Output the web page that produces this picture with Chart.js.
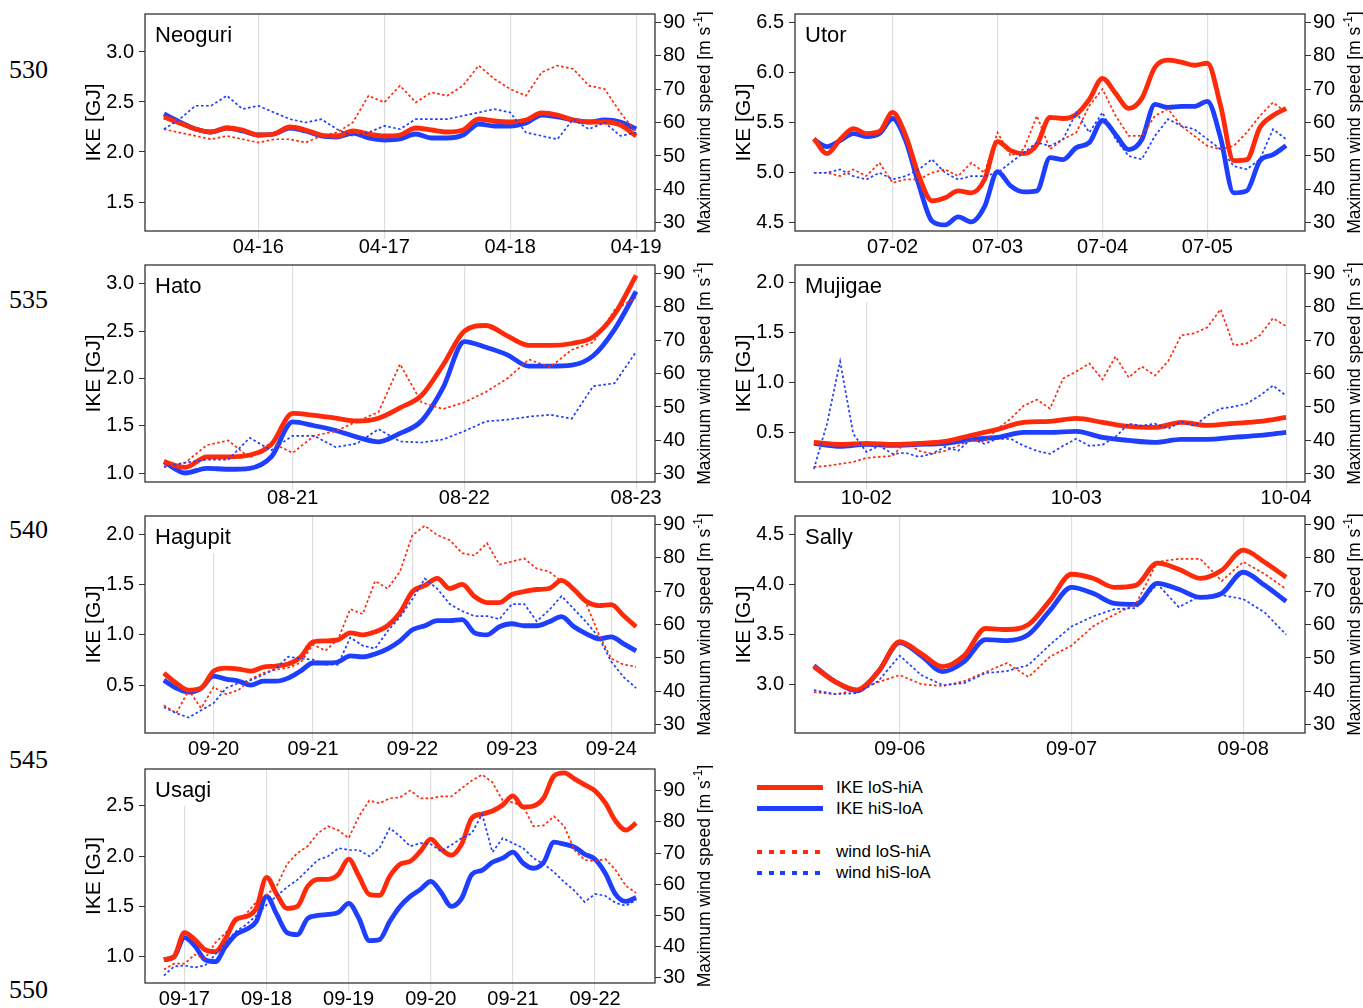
<!DOCTYPE html>
<html>
<head>
<meta charset="utf-8">
<title>IKE and maximum wind speed, loS-hiA vs hiS-loA</title>
<script src="https://cdn.jsdelivr.net/npm/chart.js@4.4.1/dist/chart.umd.min.js"></script>
<style>
  html, body { margin: 0; padding: 0; background: #fff; }
  body { position: relative; width: 1363px; height: 1008px; overflow: hidden;
         font-family: "Liberation Sans", Arial, Helvetica, sans-serif; color: #000; }
  canvas.panel { position: absolute; }
  .lineno { position: absolute; left: 9px; font-family: "Liberation Serif", "Times New Roman", serif;
            font-size: 26px; line-height: 26px; height: 26px; margin-top: -13px; }
  .key-line { position: absolute; left: 757px; width: 66px; }
  .key-text { position: absolute; left: 836px; font-size: 17px; line-height: 20px; margin-top: -10px; white-space: nowrap; }
</style>
</head>
<body>
<div class="lineno" style="top:70px">530</div>
<div class="lineno" style="top:300px">535</div>
<div class="lineno" style="top:530px">540</div>
<div class="lineno" style="top:760px">545</div>
<div class="lineno" style="top:990px">550</div>

<div class="key-line" style="top:785px;height:5px;background:#ff2a0a"></div>
<div class="key-text" style="top:788px">IKE loS-hiA</div>
<div class="key-line" style="top:806px;height:5px;background:#1f3fff"></div>
<div class="key-text" style="top:809px">IKE hiS-loA</div>
<div class="key-line" style="top:850px;height:4px;background:repeating-linear-gradient(to right,#ff2a0a 0 5px,transparent 5px 11.6px)"></div>
<div class="key-text" style="top:852px">wind loS-hiA</div>
<div class="key-line" style="top:871px;height:4px;background:repeating-linear-gradient(to right,#1f3fff 0 5px,transparent 5px 11.6px)"></div>
<div class="key-text" style="top:873px">wind hiS-loA</div>

<script>
// ---------------- data (3-hourly unless noted; first value at the run start) ----------------
// Neoguri: from 04-15 06:00
const neoguriDays = ['04-16', '04-17', '04-18', '04-19'];
const neoguriIkeTicks = [1.5, 2.0, 2.5, 3.0];
const neoguriIkeLoSHiA = [2.35, 2.29, 2.23, 2.20, 2.24, 2.22, 2.17, 2.18, 2.25, 2.22, 2.17, 2.16, 2.21, 2.18, 2.16, 2.17, 2.24, 2.22, 2.20, 2.22, 2.33, 2.31, 2.30, 2.32, 2.39, 2.37, 2.32, 2.30, 2.30, 2.27, 2.16];
const neoguriIkeHiSLoA = [2.38, 2.30, 2.23, 2.20, 2.24, 2.21, 2.17, 2.18, 2.24, 2.21, 2.16, 2.15, 2.19, 2.14, 2.12, 2.13, 2.18, 2.14, 2.14, 2.17, 2.28, 2.26, 2.26, 2.29, 2.37, 2.35, 2.32, 2.30, 2.32, 2.30, 2.23];
const neoguriWindLoSHiA = [58, 57, 56, 55, 56, 55, 54, 55, 55, 54, 56, 57, 60, 68, 66, 71, 66, 69, 68, 71, 77, 73, 70, 68, 75, 77, 76, 71, 70, 63, 57];
const neoguriWindHiSLoA = [58, 61, 65, 65, 68, 64, 65, 63, 61, 60, 61, 58, 56, 57, 59, 58, 61, 61, 61, 62, 63, 64, 63, 57, 56, 55, 61, 58, 60, 56, 57];

// Utor: from 07-01 06:00
const utorDays = ['07-02', '07-03', '07-04', '07-05'];
const utorIkeTicks = [4.5, 5.0, 5.5, 6.0, 6.5];
const utorIkeLoSHiA = [5.34, 5.19, 5.33, 5.44, 5.39, 5.41, 5.60, 5.37, 4.97, 4.72, 4.75, 4.82, 4.80, 4.93, 5.31, 5.22, 5.19, 5.28, 5.55, 5.54, 5.58, 5.73, 5.94, 5.79, 5.64, 5.74, 6.05, 6.12, 6.10, 6.07, 6.09, 5.67, 5.12, 5.13, 5.45, 5.57, 5.64];
const utorIkeHiSLoA = [5.33, 5.26, 5.32, 5.39, 5.36, 5.39, 5.54, 5.32, 4.88, 4.52, 4.48, 4.56, 4.51, 4.66, 5.01, 4.87, 4.81, 4.82, 5.15, 5.13, 5.25, 5.30, 5.52, 5.38, 5.23, 5.33, 5.68, 5.65, 5.66, 5.66, 5.71, 5.35, 4.80, 4.82, 5.12, 5.18, 5.27];
const utorWindLoSHiA = [45, 45, 44, 46, 44, 48, 42, 43, 43, 45, 46, 44, 48, 45, 57, 50, 52, 62, 52, 55, 57, 65, 70, 62, 56, 56, 62, 64, 59, 56, 53, 52, 53, 57, 62, 66, 63];
const utorWindHiSLoA = [45, 45, 46, 44, 43, 45, 43, 44, 46, 49, 45, 43, 44, 44, 45, 48, 51, 54, 53, 55, 63, 57, 63, 55, 50, 49, 56, 61, 59, 58, 55, 52, 47, 46, 49, 58, 55];

// Hato: from 08-20 06:00
const hatoDays = ['08-21', '08-22', '08-23'];
const hatoIkeTicks = [1.0, 1.5, 2.0, 2.5, 3.0];
const hatoIkeLoSHiA = [1.12, 1.06, 1.17, 1.17, 1.19, 1.30, 1.63, 1.61, 1.58, 1.55, 1.58, 1.69, 1.82, 2.14, 2.50, 2.56, 2.45, 2.35, 2.35, 2.37, 2.44, 2.68, 3.09];
const hatoIkeHiSLoA = [1.12, 1.00, 1.05, 1.04, 1.05, 1.17, 1.54, 1.50, 1.45, 1.38, 1.33, 1.42, 1.55, 1.90, 2.39, 2.33, 2.25, 2.13, 2.13, 2.14, 2.24, 2.52, 2.92];
const hatoWindLoSHiA = [32.3, 33.4, 38.6, 40.0, 34.8, 39.4, 36.3, 41.4, 42.8, 45.7, 48.5, 62.8, 51.4, 49.4, 51.4, 54.5, 58.5, 64.2, 61.9, 67.1, 69.3, 79.0, 82.7];
const hatoWindHiSLoA = [32.0, 33.4, 34.3, 34.3, 40.8, 37.1, 41.4, 41.4, 38.0, 39.1, 43.4, 39.7, 39.4, 40.3, 42.8, 45.7, 46.2, 47.1, 47.7, 46.5, 56.2, 57.1, 66.5];

// Mujigae: from 10-01 18:00 (wind every 1.5 h)
const mujigaeDays = ['10-02', '10-03', '10-04'];
const mujigaeIkeTicks = [0.5, 1.0, 1.5, 2.0];
const mujigaeIkeLoSHiA = [0.40, 0.38, 0.39, 0.38, 0.39, 0.41, 0.47, 0.53, 0.60, 0.61, 0.64, 0.60, 0.56, 0.55, 0.60, 0.57, 0.59, 0.61, 0.65];
const mujigaeIkeHiSLoA = [0.39, 0.36, 0.38, 0.37, 0.38, 0.39, 0.43, 0.45, 0.50, 0.50, 0.51, 0.45, 0.42, 0.40, 0.43, 0.43, 0.45, 0.47, 0.50];
const mujigaeWindLoSHiA = [32.1, 32.4, 33.0, 33.6, 34.8, 35.1, 35.4, 39.6, 36.9, 36.0, 36.9, 38.4, 40.2, 39.6, 43.5, 46.5, 50.4, 52.2, 49.5, 58.5, 60.6, 63.0, 58.2, 65.1, 58.8, 62.1, 59.4, 63.6, 71.4, 72.0, 73.8, 79.2, 68.4, 69.0, 71.4, 76.5, 74.1];
const mujigaeWindHiSLoA = [31.5, 45.0, 63.6, 42.0, 36.6, 38.4, 36.0, 36.3, 35.1, 36.0, 38.1, 36.9, 40.5, 39.0, 40.5, 40.5, 38.4, 36.9, 36.0, 38.4, 40.5, 38.4, 38.7, 41.1, 45.0, 44.4, 45.0, 43.5, 45.6, 44.4, 47.4, 49.5, 50.1, 51.0, 53.4, 56.4, 53.4];

// Hagupit: from 09-19 12:00
const hagupitDays = ['09-20', '09-21', '09-22', '09-23', '09-24'];
const hagupitIkeTicks = [0.5, 1.0, 1.5, 2.0];
const hagupitIkeLoSHiA = [0.62, 0.52, 0.45, 0.47, 0.64, 0.67, 0.66, 0.64, 0.68, 0.69, 0.71, 0.78, 0.93, 0.94, 0.95, 1.02, 1.00, 1.03, 1.09, 1.22, 1.43, 1.49, 1.56, 1.46, 1.50, 1.38, 1.32, 1.32, 1.40, 1.43, 1.45, 1.46, 1.54, 1.45, 1.33, 1.29, 1.30, 1.19, 1.08];
const hagupitIkeHiSLoA = [0.55, 0.47, 0.43, 0.47, 0.59, 0.56, 0.54, 0.50, 0.54, 0.54, 0.57, 0.64, 0.72, 0.72, 0.73, 0.79, 0.78, 0.81, 0.86, 0.94, 1.05, 1.09, 1.14, 1.14, 1.15, 1.02, 1.00, 1.08, 1.11, 1.09, 1.09, 1.13, 1.18, 1.08, 1.01, 0.96, 0.98, 0.91, 0.84];
const hagupitWindLoSHiA = [35.9, 33.5, 40.4, 35.0, 41.3, 39.2, 40.4, 43.7, 45.6, 46.5, 47.1, 48.6, 54.0, 52.2, 55.5, 64.6, 63.1, 73.0, 70.7, 75.8, 86.7, 89.5, 86.7, 85.2, 81.3, 80.6, 84.3, 77.9, 78.8, 79.7, 76.7, 75.8, 72.8, 70.7, 66.1, 57.1, 49.8, 48.0, 47.4];
const hagupitWindHiSLoA = [35.3, 33.5, 32.2, 34.4, 36.5, 41.0, 42.5, 43.4, 45.0, 46.8, 50.4, 49.8, 49.5, 48.0, 48.0, 56.1, 53.7, 52.8, 58.0, 62.2, 67.6, 73.7, 70.7, 66.1, 64.0, 62.5, 62.5, 61.6, 66.1, 66.1, 61.0, 64.3, 68.5, 64.6, 60.7, 56.1, 48.9, 44.3, 41.0];

// Sally: from 09-05 12:00
const sallyDays = ['09-06', '09-07', '09-08'];
const sallyIkeTicks = [3.0, 3.5, 4.0, 4.5];
const sallyIkeLoSHiA = [3.18, 3.03, 2.95, 3.13, 3.43, 3.31, 3.18, 3.29, 3.56, 3.55, 3.60, 3.84, 4.10, 4.06, 3.97, 3.99, 4.21, 4.15, 4.06, 4.14, 4.34, 4.22, 4.07];
const sallyIkeHiSLoA = [3.19, 3.03, 2.94, 3.13, 3.42, 3.29, 3.13, 3.23, 3.45, 3.44, 3.50, 3.74, 3.97, 3.91, 3.81, 3.80, 4.01, 3.95, 3.87, 3.91, 4.12, 3.99, 3.83];
const sallyWindLoSHiA = [39.8, 39.2, 40.4, 42.8, 44.9, 42.2, 41.6, 43.1, 45.8, 48.5, 44.3, 50.4, 53.7, 59.4, 63.0, 66.1, 78.7, 79.6, 79.6, 73.0, 78.7, 75.1, 70.6];
const sallyWindHiSLoA = [40.4, 39.2, 39.5, 43.1, 50.7, 44.9, 41.9, 42.5, 45.5, 46.1, 47.9, 54.0, 59.4, 62.4, 64.6, 64.9, 72.1, 65.2, 68.5, 68.8, 67.6, 63.6, 57.0];

// Usagi: from 09-16 18:00
const usagiDays = ['09-17', '09-18', '09-19', '09-20', '09-21', '09-22'];
const usagiIkeTicks = [1.0, 1.5, 2.0, 2.5];
const usagiIkeLoSHiA = [0.97, 1.00, 1.24, 1.17, 1.07, 1.05, 1.18, 1.37, 1.40, 1.48, 1.79, 1.62, 1.48, 1.50, 1.70, 1.77, 1.77, 1.82, 1.97, 1.80, 1.62, 1.61, 1.80, 1.92, 1.95, 2.05, 2.17, 2.07, 2.01, 2.12, 2.38, 2.42, 2.45, 2.51, 2.60, 2.49, 2.50, 2.58, 2.80, 2.83, 2.77, 2.71, 2.65, 2.53, 2.35, 2.26, 2.33];
const usagiIkeHiSLoA = [0.97, 1.00, 1.19, 1.11, 0.97, 0.95, 1.10, 1.22, 1.27, 1.35, 1.60, 1.42, 1.24, 1.22, 1.38, 1.41, 1.42, 1.44, 1.53, 1.38, 1.16, 1.17, 1.35, 1.50, 1.60, 1.67, 1.75, 1.64, 1.50, 1.58, 1.82, 1.86, 1.94, 1.98, 2.04, 1.93, 1.88, 1.94, 2.14, 2.12, 2.09, 2.02, 1.97, 1.83, 1.62, 1.55, 1.59];
const usagiWindLoSHiA = [32.6, 34.5, 34.5, 37.4, 36.1, 41.2, 44.4, 48.0, 50.5, 54.3, 56.6, 59.5, 66.5, 70.0, 72.2, 76.4, 78.6, 77.3, 74.8, 81.8, 86.9, 86.0, 87.6, 87.9, 90.1, 87.6, 87.6, 88.2, 88.2, 90.8, 93.3, 95.2, 92.7, 86.9, 86.3, 85.0, 78.6, 78.9, 81.8, 78.6, 71.0, 67.8, 67.4, 68.1, 64.6, 59.5, 57.2];
const usagiWindHiSLoA = [30.7, 33.6, 33.9, 33.3, 33.9, 37.4, 41.2, 44.8, 47.0, 49.9, 53.4, 56.3, 59.1, 61.4, 64.6, 67.8, 69.0, 71.6, 71.0, 71.0, 69.0, 71.6, 78.0, 75.4, 72.2, 73.2, 72.9, 70.6, 72.6, 74.8, 76.4, 82.5, 70.3, 74.8, 73.2, 71.6, 68.4, 66.5, 63.9, 60.7, 57.9, 54.3, 56.9, 56.3, 54.0, 53.1, 55.0];

const windTicks = [30, 40, 50, 60, 70, 80, 90];

// ---------------- drawing ----------------
const FONT = '"Liberation Sans", Arial, Helvetica, sans-serif';
const RED = '#ff2a0a';
const BLUE = '#1f3fff';
const PADL = 100, PADR = 58, PADT = 22, PADB = 30, BOXW = 510;

// hours are counted from 00:00 of the first labelled day
const panels = [
  { name: 'Neoguri', left: 145, top: 14,  height: 217, start: -18, ikeStep: 3, windStep: 3,   ike: [1.21, 3.38],  wind: [27.6, 92.4], ikeTicks: neoguriIkeTicks, days: neoguriDays,
    ikeA: neoguriIkeLoSHiA, ikeB: neoguriIkeHiSLoA, windA: neoguriWindLoSHiA, windB: neoguriWindHiSLoA },
  { name: 'Utor',    left: 795, top: 14,  height: 217, start: -18, ikeStep: 3, windStep: 3,   ike: [4.42, 6.58],  wind: [27.6, 92.4], ikeTicks: utorIkeTicks, days: utorDays,
    ikeA: utorIkeLoSHiA, ikeB: utorIkeHiSLoA, windA: utorWindLoSHiA, windB: utorWindHiSLoA },
  { name: 'Hato',    left: 145, top: 265, height: 217, start: -18, ikeStep: 3, windStep: 3,   ike: [0.905, 3.20], wind: [27.6, 92.4], ikeTicks: hatoIkeTicks, days: hatoDays,
    ikeA: hatoIkeLoSHiA, ikeB: hatoIkeHiSLoA, windA: hatoWindLoSHiA, windB: hatoWindHiSLoA },
  { name: 'Mujigae', left: 795, top: 265, height: 217, start: -6,  ikeStep: 3, windStep: 1.5, ike: [0.005, 2.17], wind: [27.6, 92.4], ikeTicks: mujigaeIkeTicks, days: mujigaeDays,
    ikeA: mujigaeIkeLoSHiA, ikeB: mujigaeIkeHiSLoA, windA: mujigaeWindLoSHiA, windB: mujigaeWindHiSLoA },
  { name: 'Hagupit', left: 145, top: 516, height: 217, start: -12, ikeStep: 3, windStep: 3,   ike: [0.025, 2.18], wind: [27.6, 92.4], ikeTicks: hagupitIkeTicks, days: hagupitDays,
    ikeA: hagupitIkeLoSHiA, ikeB: hagupitIkeHiSLoA, windA: hagupitWindLoSHiA, windB: hagupitWindHiSLoA },
  { name: 'Sally',   left: 795, top: 516, height: 217, start: -12, ikeStep: 3, windStep: 3,   ike: [2.52, 4.68],  wind: [27.6, 92.4], ikeTicks: sallyIkeTicks, days: sallyDays,
    ikeA: sallyIkeLoSHiA, ikeB: sallyIkeHiSLoA, windA: sallyWindLoSHiA, windB: sallyWindHiSLoA },
  { name: 'Usagi',   left: 145, top: 769, height: 214, start: -6,  ikeStep: 3, windStep: 3,   ike: [0.738, 2.868], wind: [28.3, 97.0], ikeTicks: usagiIkeTicks, days: usagiDays,
    ikeA: usagiIkeLoSHiA, ikeB: usagiIkeHiSLoA, windA: usagiWindLoSHiA, windB: usagiWindHiSLoA }
];

function series(values, start, step) {
  return values.map((v, i) => ({ x: start + i * step, y: v }));
}

// frame, storm name (on a white patch) and the two rotated axis titles
const panelDecor = {
  id: 'panelDecor',
  beforeDatasetsDraw(chart, args, opts) {
    const { ctx, chartArea: a } = chart;
    ctx.save();
    ctx.font = '22px ' + FONT;
    const w = ctx.measureText(opts.name).width;
    ctx.fillStyle = '#fff';
    ctx.fillRect(a.left + 1, a.top + 1, w + 18, 36);
    ctx.restore();
  },
  afterDraw(chart, args, opts) {
    const { ctx, chartArea: a } = chart;
    ctx.save();
    ctx.strokeStyle = '#333';
    ctx.lineWidth = 1.3;
    ctx.strokeRect(a.left, a.top, a.right - a.left, a.bottom - a.top);

    ctx.fillStyle = '#000';
    ctx.font = '22px ' + FONT;
    ctx.textAlign = 'left';
    ctx.textBaseline = 'alphabetic';
    ctx.fillText(opts.name, a.left + 10, a.top + 28);

    const midY = (a.top + a.bottom) / 2;
    ctx.save();
    ctx.translate(a.left - 51, midY);
    ctx.rotate(-Math.PI / 2);
    ctx.font = '21px ' + FONT;
    ctx.textAlign = 'center';
    ctx.textBaseline = 'middle';
    ctx.fillText('IKE [GJ]', 0, 0);
    ctx.restore();

    ctx.save();
    ctx.translate(a.right + 50, midY);
    ctx.rotate(-Math.PI / 2);
    const head = 'Maximum wind speed [m s', sup = '-1', tail = ']';
    ctx.font = '17.5px ' + FONT;
    const w1 = ctx.measureText(head).width, w3 = ctx.measureText(tail).width;
    ctx.font = '12px ' + FONT;
    const w2 = ctx.measureText(sup).width;
    let x = -(w1 + w2 + w3) / 2;
    ctx.textAlign = 'left';
    ctx.textBaseline = 'middle';
    ctx.font = '17.5px ' + FONT;
    ctx.fillText(head, x, 0); x += w1;
    ctx.font = '12px ' + FONT;
    ctx.fillText(sup, x, -6); x += w2;
    ctx.font = '17.5px ' + FONT;
    ctx.fillText(tail, x, 0);
    ctx.restore();

    ctx.restore();
  }
};

function makePanel(p) {
  const c = document.createElement('canvas');
  c.className = 'panel';
  c.width = BOXW + PADL + PADR;
  c.height = p.height + PADT + PADB;
  c.style.left = (p.left - PADL) + 'px';
  c.style.top = (p.top - PADT) + 'px';
  c.style.width = c.width + 'px';
  c.style.height = c.height + 'px';
  document.body.appendChild(c);

  const end = p.start + (p.ikeA.length - 1) * p.ikeStep;
  const span = end - p.start;
  const dayHours = p.days.map((d, i) => i * 24);
  const tickFont = { family: FONT, size: 20, lineHeight: 1 };

  new Chart(c, {
    type: 'line',
    data: {
      datasets: [
        { label: 'wind hiS-loA', data: series(p.windB, p.start, p.windStep), yAxisID: 'y1',
          borderColor: BLUE, borderWidth: 1.7, borderDash: [2.6, 2.4], pointRadius: 0, tension: 0, fill: false },
        { label: 'wind loS-hiA', data: series(p.windA, p.start, p.windStep), yAxisID: 'y1',
          borderColor: RED, borderWidth: 1.7, borderDash: [2.6, 2.4], pointRadius: 0, tension: 0, fill: false },
        { label: 'IKE loS-hiA', data: series(p.ikeA, p.start, p.ikeStep), yAxisID: 'y',
          borderColor: RED, borderWidth: 4.8, pointRadius: 0, cubicInterpolationMode: 'monotone', fill: false },
        { label: 'IKE hiS-loA', data: series(p.ikeB, p.start, p.ikeStep), yAxisID: 'y',
          borderColor: BLUE, borderWidth: 4.8, pointRadius: 0, cubicInterpolationMode: 'monotone', fill: false }
      ]
    },
    options: {
      responsive: false,
      animation: false,
      events: [],
      layout: { padding: { top: PADT, left: 0, right: 0, bottom: 0 } },
      plugins: { legend: { display: false }, tooltip: { enabled: false }, panelDecor: { name: p.name } },
      scales: {
        x: {
          type: 'linear', min: p.start - 0.04 * span, max: end + 0.04 * span,
          afterBuildTicks: s => { s.ticks = dayHours.map(v => ({ value: v })); },
          afterFit: s => { s.height = PADB; },
          ticks: { autoSkip: false, maxRotation: 0, minRotation: 0, padding: -2, color: '#000', font: tickFont,
                   callback: (v, i) => p.days[i] },
          grid: { color: '#dedede', lineWidth: 1.2, tickLength: 8, drawOnChartArea: true },
          border: { display: false }
        },
        y: {
          position: 'left', min: p.ike[0], max: p.ike[1],
          afterBuildTicks: s => { s.ticks = p.ikeTicks.map(v => ({ value: v })); },
          afterFit: s => { s.width = PADL; },
          ticks: { padding: 5, color: '#000', font: tickFont, callback: v => Number(v).toFixed(1) },
          grid: { drawOnChartArea: false, tickLength: 6, color: '#333', tickColor: '#333' },
          border: { display: false }
        },
        y1: {
          position: 'right', min: p.wind[0], max: p.wind[1],
          afterBuildTicks: s => { s.ticks = windTicks.map(v => ({ value: v })); },
          afterFit: s => { s.width = PADR; },
          ticks: { padding: 2, color: '#000', font: tickFont, callback: v => String(v) },
          grid: { drawOnChartArea: false, tickLength: 6, color: '#333', tickColor: '#333' },
          border: { display: false }
        }
      }
    },
    plugins: [panelDecor]
  });
}

panels.forEach(makePanel);
</script>
</body>
</html>
